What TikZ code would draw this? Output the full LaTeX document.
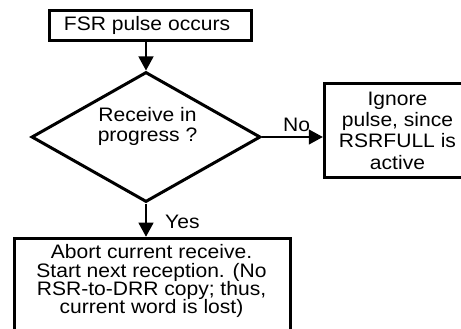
\documentclass[tikz,border=0pt]{standalone}
\usepackage{fontspec}
\setmainfont[FakeStretch=1.08]{Liberation Sans}
\usetikzlibrary{shapes.geometric,arrows.meta}
\begin{document}
\begin{tikzpicture}[x=1pt,y=-1pt,
  boxshape/.style={draw, line width=3pt, rectangle, inner sep=0pt},
  txt/.style={inner sep=0pt, align=center, font=\fontsize{19.5}{18.3}\selectfont},
  conn/.style={line width=1.2pt, -{Triangle[length=14pt,width=15pt]}},
  lbl/.style={inner sep=0pt, font=\fontsize{19.5}{21}\selectfont}]
\useasboundingbox (0,0) rectangle (461,329);
\clip (0,0) rectangle (461,329);
% top box
\node[boxshape, minimum width=202.5pt, minimum height=30pt] (fsr) at (150.25,26) {};
\node[txt] (fsrt) at (147,25.5) {FSR pulse occurs};
% decision
\node[draw, line width=3pt, diamond, minimum width=229pt, minimum height=130pt, inner sep=0pt] (dec) at (146,137) {};
\node[txt, font=\fontsize{19.5}{20}\selectfont] (q) at (147.5,126.4) {Receive in\\progress ?};
% right box
\node[boxshape, minimum width=146.4pt, minimum height=94.4pt, align=center, font=\fontsize{19.5}{21.3}\selectfont] (ign) at (397.5,130.5) {Ignore\\pulse, since\\RSRFULL is\\active};
% bottom box
\node[boxshape, minimum width=275.5pt, minimum height=110pt, anchor=north west] (abortbox) at (13,236.7) {};
\node[txt] (abort) at (151.5,281.4) {Abort current receive.\\Start next reception. (No\\RSR-to-DRR copy; thus,\\current word is lost)};
% connectors
\draw[conn] (fsr.south -| dec.north) -- (dec.north);
\draw[conn] (dec.east) -- (dec.east -| ign.west);
\draw[conn] (dec.south) -- (dec.south |- abortbox.north);
% labels
\node[lbl, anchor=base west] (no) at (283,131.7) {No};
\node[lbl, anchor=base west] (yes) at (165,228.3) {Yes};
\end{tikzpicture}
\end{document}
